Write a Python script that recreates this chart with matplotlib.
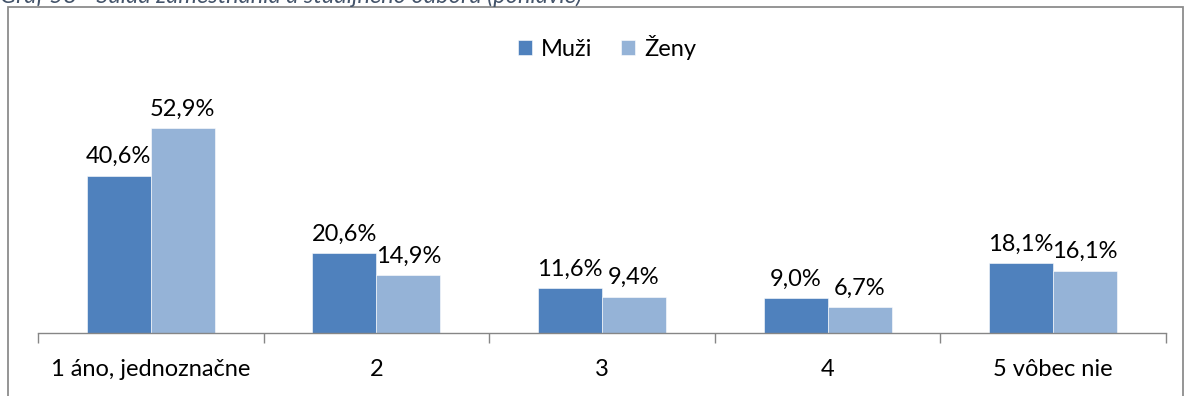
import matplotlib
matplotlib.use("Agg")
import matplotlib.pyplot as plt
import numpy as np
from matplotlib.patches import Rectangle

plt.rcParams['font.family'] = ['Lato', 'DejaVu Sans']

categories = ["1 áno, jednoznačne", "2", "3", "4", "5 vôbec nie"]
series_names = ["Muži", "Ženy"]
muzi = [40.6, 20.6, 11.6, 9.0, 18.1]
zeny = [52.9, 14.9, 9.4, 6.7, 16.1]
caption = "Graf 58 - Súlad zamestnania a študijného odboru (pohlavie)"

colors = ["#4F81BD", "#95B3D7"]
FS = 17

W, H = 1184, 396
fig = plt.figure(figsize=(W / 100, H / 100), dpi=100)

# Outer chart frame
fig.patches.append(Rectangle((8 / W, -0.05), (1183 - 8) / W, 1.05 - 7 / H,
                             transform=fig.transFigure, fill=False,
                             edgecolor="#8c8c8c", linewidth=1.3))

# Caption sitting above the frame
fig.text(0 / W, 1 - 3 / H, caption, ha="left", va="baseline", fontsize=17,
         style="italic", color="#44546A")

ax_left, ax_right = 38 / W, 1166 / W
ax_bottom = (H - 333) / H
ymax = 60
ax_height = ymax * 3.875 / H
ax = fig.add_axes([ax_left, ax_bottom, ax_right - ax_left, ax_height])

x = np.arange(len(categories))
bw = 0.284
bars1 = ax.bar(x - bw / 2, muzi, bw, color=colors[0], edgecolor="white",
               linewidth=0.4, label=series_names[0])
bars2 = ax.bar(x + bw / 2, zeny, bw, color=colors[1], edgecolor="white",
               linewidth=0.4, label=series_names[1])

for bars, vals in ((bars1, muzi), (bars2, zeny)):
    for b, v in zip(bars, vals):
        ax.annotate(f"{v:.1f}%".replace(".", ","),
                    (b.get_x() + b.get_width() / 2, v),
                    xytext=(0, 6), textcoords="offset points",
                    ha="center", va="bottom", fontsize=FS, color="black")

ax.set_xlim(-0.5, len(categories) - 0.5)
ax.set_ylim(0, ymax)
ax.set_yticks([])
for s in ("top", "right", "left"):
    ax.spines[s].set_visible(False)
ax.spines["bottom"].set_color("#868686")
ax.spines["bottom"].set_linewidth(1.0)

ax.set_xticks(np.arange(len(categories) + 1) - 0.5, minor=False)
ax.set_xticklabels([])
ax.tick_params(axis="x", which="major", length=7, color="#868686", width=1.0)
ax.set_xticks(x, minor=True)
ax.set_xticklabels(categories, minor=True, fontsize=FS)
ax.tick_params(axis="x", which="minor", length=0, pad=19)
ax.patch.set_alpha(0)

fig.legend(handles=[bars1, bars2], labels=series_names, loc="center",
           bbox_to_anchor=(607 / W, 1 - 47 / H), ncol=2, frameon=False,
           fontsize=FS, handlelength=0.6, handleheight=0.6,
           handletextpad=0.4, columnspacing=1.2)

fig.savefig("out.png", dpi=100)
